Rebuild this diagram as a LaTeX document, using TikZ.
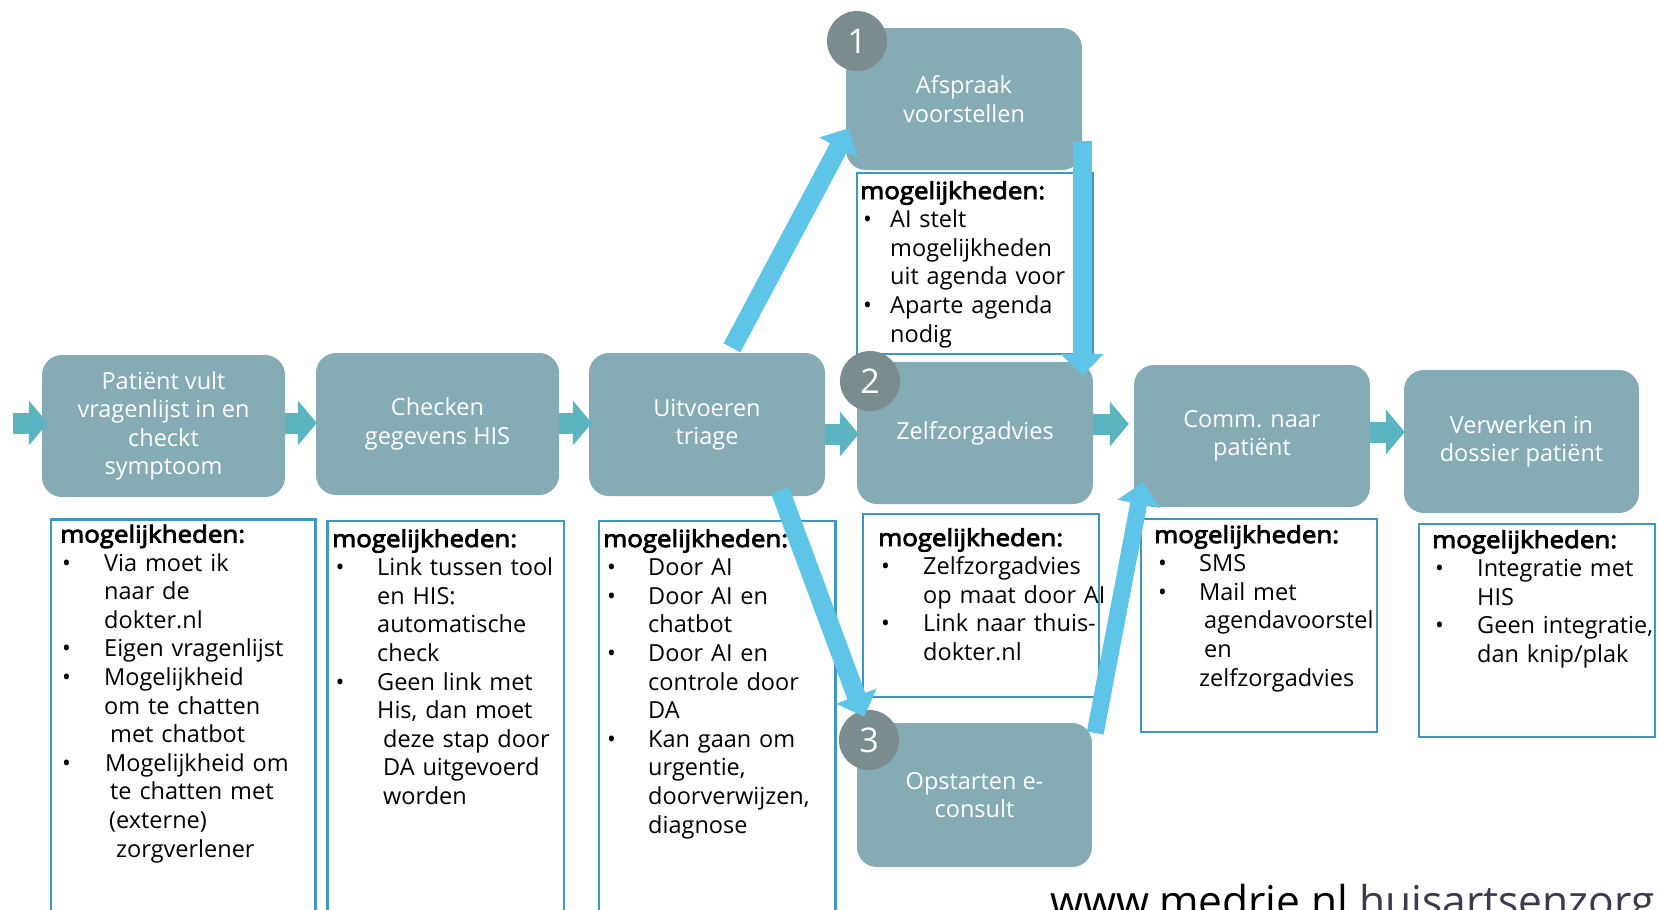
\documentclass[tikz,border=0pt]{standalone}
\usepackage{fontspec}
\setmainfont{Open Sans}[AutoFakeBold=2.5]
\newfontfamily\headfont{Open Sans}[FakeBold=3.5,FakeStretch=1.1]
\usetikzlibrary{arrows.meta,calc}

\definecolor{stepfill}{HTML}{85ABB5}
\definecolor{badgegrey}{HTML}{7A8C8D}
\definecolor{flowteal}{HTML}{5AB5C0}
\definecolor{branchblue}{HTML}{5EC4E8}
\definecolor{optline}{HTML}{3E97C3}
\definecolor{siteslate}{HTML}{3A3A50}

% bullet lists with a hanging indent: \bulo = bullet offset, \bult = text offset
\newlength\bulo
\newlength\bult
\newcommand\bitem[1]{\makebox[\bult][l]{\hspace*{\bulo}\textbullet}#1}
\newcommand\bcont[2][0pt]{\hspace*{\dimexpr\bult+#1\relax}#2}
\newcommand\opthead{{\headfont mogelijkheden:}}

\begin{document}
\begin{tikzpicture}[x=1pt,y=-1pt,
  stepbox/.style={fill=stepfill, rounded corners=20pt, text=white, align=center,
    font=\fontsize{23.5}{28.5}\selectfont, inner sep=0pt},
  badge/.style={circle, fill=badgegrey, text=white, minimum size=60pt, inner sep=0pt,
    font=\fontsize{34}{34}\selectfont},
  optbox/.style={draw=optline, line width=2.5pt, fill=white, anchor=north west,
    inner sep=0pt, outer sep=0pt},
  opttext/.style={anchor=north west, inner sep=0pt, text width=260pt, align=left,
    font=\fontsize{23.5}{28.6}\selectfont},
  flow/.style={draw=flowteal, line width=21pt, -{Triangle[length=19pt,width=44pt]}},
  branch/.style={draw=branchblue, line width=19pt, -{Triangle[length=22pt,width=42pt]}},
]
\useasboundingbox (0,0) rectangle (1658,910);
\clip (0,0) rectangle (1658,910);

% option boxes
\node[optbox, minimum width=264.5pt, minimum height=420pt] (o1) at (51,519.5) {};
\node[opttext] (t1) at ($(o1.north west)+(9,5)$) {%
  \setlength\bulo{2pt}\setlength\bult{44pt}%
  \opthead\\
  \bitem{Via moet ik}\\
  \bcont{naar de}\\
  \bcont{dokter.nl}\\
  \bitem{Eigen vragenlijst}\\
  \bitem{Mogelijkheid}\\
  \bcont{om te chatten}\\
  \bcont[6pt]{met chatbot}\\
  \bitem{\hspace*{1pt}Mogelijkheid om}\\
  \bcont[6pt]{te chatten met}\\
  \bcont[5pt]{(externe)}\\
  \bcont[12pt]{zorgverlener}};

\node[optbox, minimum width=236.5pt, minimum height=420pt] (o2) at (327.5,521) {};
\node[opttext] (t2) at ($(o2.north west)+(4.5,8)$) {%
  \setlength\bulo{3.5pt}\setlength\bult{45pt}%
  \opthead\\
  \bitem{Link tussen tool}\\
  \bcont{en HIS:}\\
  \bcont{automatische}\\
  \bcont{check}\\
  \bitem{Geen link met}\\
  \bcont{His, dan moet}\\
  \bcont[6pt]{deze stap door}\\
  \bcont[6pt]{DA uitgevoerd}\\
  \bcont[6pt]{worden}};

\node[optbox, minimum width=236.5pt, minimum height=420pt] (o3) at (599,521) {};
\node[opttext] (t3) at ($(o3.north west)+(4,8)$) {%
  \setlength\bulo{4pt}\setlength\bult{45pt}%
  \opthead\\
  \bitem{Door AI}\\
  \bitem{Door AI en}\\
  \bcont{chatbot}\\
  \bitem{Door AI en}\\
  \bcont{controle door}\\
  \bcont{DA}\\
  \bitem{Kan gaan om}\\
  \bcont{urgentie,}\\
  \bcont{doorverwijzen,}\\
  \bcont{diagnose}};

\node[optbox, minimum width=236pt, minimum height=181pt] (o4) at (857,173) {};
\node[opttext] (t4) at ($(o4.north west)+(3,8)$) {%
  \setlength\bulo{3pt}\setlength\bult{30pt}%
  \opthead\\
  \bitem{AI stelt}\\
  \bcont{mogelijkheden}\\
  \bcont{uit agenda voor}\\
  \bitem{Aparte agenda}\\
  \bcont{nodig}};

\node[optbox, minimum width=236pt, minimum height=183pt] (o5) at (863,514) {};
\node[opttext] (t5) at ($(o5.north west)+(15,14)$) {%
  \setlength\bulo{3pt}\setlength\bult{45pt}%
  \opthead\\
  \bitem{Zelfzorgadvies}\\
  \bcont{op maat door AI}\\
  \bitem{Link naar thuis-}\\
  \bcont{dokter.nl}};

\node[optbox, minimum width=236pt, minimum height=213pt] (o6) at (1141,519) {};
\node[opttext] (t6) at ($(o6.north west)+(13,6)$) {%
  \setlength\bulo{4pt}\setlength\bult{45pt}%
  \opthead\\
  \bitem{SMS}\\
  \bitem{Mail met}\\
  \bcont[5pt]{agendavoorstel}\\
  \bcont[5pt]{en}\\
  \bcont{zelfzorgadvies}};

\node[optbox, minimum width=236pt, minimum height=213pt] (o7) at (1419,524) {};
\node[opttext] (t7) at ($(o7.north west)+(13,6)$) {%
  \setlength\bulo{3pt}\setlength\bult{45pt}%
  \opthead\\
  \bitem{Integratie met}\\
  \bcont{HIS}\\
  \bitem{Geen integratie,}\\
  \bcont{dan knip/plak}};

% process steps
\node[stepbox, minimum width=243pt, minimum height=142pt] (b1) at (163.5,426)
  {Patiënt vult\\vragenlijst in en\\checkt\\symptoom};
\node[stepbox, minimum width=243pt, minimum height=142pt] (b2) at (437.5,424)
  {Checken\\gegevens HIS};
\node[stepbox, minimum width=236pt, minimum height=143pt] (b3) at (707,424.5)
  {Uitvoeren\\triage};
\node[stepbox, minimum width=236pt, minimum height=142pt] (b4) at (964,99)
  {Afspraak\\voorstellen};
\node[stepbox, minimum width=236pt, minimum height=142pt] (b5) at (975,433)
  {Zelfzorgadvies};
\node[stepbox, minimum width=235pt, minimum height=144pt] (b6) at (974.5,795)
  {Opstarten e-\\consult};
\node[stepbox, minimum width=236pt, minimum height=142pt] (b7) at (1252,436)
  {Comm. naar\\patiënt};
\node[stepbox, minimum width=235pt, minimum height=143pt] (b8) at (1521.5,441.5)
  {Verwerken in\\dossier patiënt};

% numbered badges
\node[badge] (c1) at (857,41) {1};
\node[badge] (c2) at (870,381) {2};
\node[badge] (c3) at (869,740) {3};

% main flow
\coordinate (entry) at (13,423);
\draw[flow] (entry) -- ($(b1.west)+(6,-3)$);
\draw[flow] ($(b1.east)+(0,-3)$) -- ($(b2.west)+(1,-1)$);
\draw[flow] ($(b2.east)+(0,-1)$) -- ($(b3.west)+(3,-1.5)$);
\draw[flow] ($(b3.east)+(0,9.5)$) -- ($(b5.west)+(2,1)$);
\draw[flow] ($(b5.east)+(0,-9)$) -- ($(b7.west)+(-5,-12)$);
\draw[flow] ($(b7.east)+(0,-4)$) -- ($(b8.west)+(1,-9.5)$);

% branches
\draw[branch] ($(b3.north)+(25,-5)$) -- ($(b4.south west)+(3,-42)$);
\draw[branch] ($(b4.east)+(0,42)$) -- ($(b5.north east)+(-11,14)$);
\draw[branch] ($(b3.south)+(73,-6)$) -- ($(c3.north)+(-5,7)$);
\draw[branch, line width=17pt] ($(b6.east)+(3,-62)$) -- ($(b7.south west)+(9,-25)$);

% footer
\node[anchor=base west, inner sep=0pt, font=\fontsize{42.5}{42.5}\selectfont] (site)
  at (1050,916) {www.medrie.nl \textcolor{siteslate}{huisartsenzorg}};
\end{tikzpicture}
\end{document}
